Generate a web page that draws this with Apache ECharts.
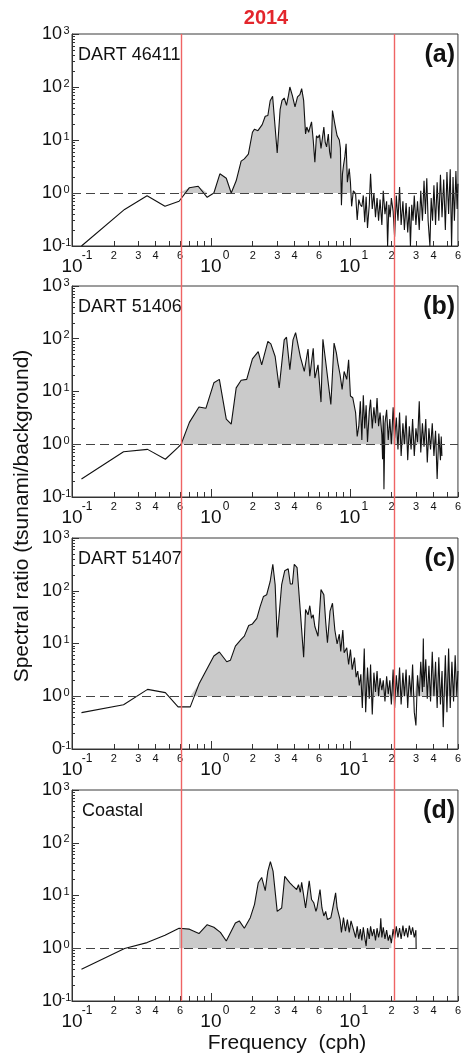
<!DOCTYPE html>
<html><head><meta charset="utf-8">
<script src="https://cdn.jsdelivr.net/npm/echarts@6/dist/echarts.min.js"></script>
<style>html,body{margin:0;padding:0;background:#fff}#c{width:464px;height:1055px}</style>
</head><body><div id="c"></div>
<script>
// ---------- data ----------
const yearLabel = '2014';
const panelNames = ['DART 46411', 'DART 51406', 'DART 51407', 'Coastal'];
const panelTags = ['(a)', '(b)', '(c)', '(d)'];
const bandLimits = [0.6, 20];                 // red vertical lines (cph)
const fillRanges = [[0.58, 10.2], [0.58, 46.5], [0.58, 60], [0.58, 20]];
const xMajorTicks = [0.1, 1, 10];
const xMinorTicks = [0.2,0.3,0.4,0.5,0.6,0.7,0.8,0.9,2,3,4,5,6,7,8,9,20,30,40,50,60];
const xMinorLabels = [0.2,0.3,0.4,0.6,2,3,4,6,20,30,40,60];
const yMajorTicks = [0.1, 1, 10, 100, 1000];
const yMinorTicks = [0.2,0.3,0.4,0.5,0.6,0.7,0.8,0.9,2,3,4,5,6,7,8,9,20,30,40,50,60,70,80,90,200,300,400,500,600,700,800,900];

const spectrumA = [
[0.117,0.10],[0.239,0.49],[0.347,0.89],[0.467,0.56],[0.59,0.70],[0.70,1.26],[0.81,1.34],[0.94,0.83],[1.05,1.0],[1.16,2.3],[1.29,1.9],[1.40,1.0],[1.52,1.7],[1.65,4.0],[1.74,4.4],[1.86,5.4],[1.99,14],[2.06,16],[2.18,15],[2.34,19.5],[2.46,28],[2.57,29],[2.67,55],[2.78,67],[3.0,5.7],[3.15,38],[3.25,56],[3.37,62],[3.5,45],[3.62,70],[3.7,100],[3.85,70],[4.03,42],[4.2,65],[4.37,72],[4.5,93],[4.65,56],[4.8,13],[4.9,17.6],[5.05,14],[5.3,22],[5.45,10],[5.6,3.8],[5.75,12],[5.9,11],[6.05,12.5],[6.2,6.9],[6.35,11],[6.5,17.6],[6.65,9],[6.8,7.4],[7.0,13],[7.15,6],[7.3,4.5],[7.5,36],[7.8,20],[8.1,12],[8.4,10],[8.55,7],[8.7,0.59],[8.85,2.3],[9.0,3.3],[9.2,4.8],[9.4,8.5],[9.6,1.6],[9.9,2.9],[10.1,1.6],[10.3,0.56],[10.6,1.1],[11.0,0.97],[11.3,0.31],[11.6,0.75],[11.9,0.6],
[12.2,0.55],[12.5,0.9],[12.8,0.28],[13.1,0.85],[13.4,0.22],[13.8,0.6],[14.1,2.3],[14.5,0.5],[14.9,1.0],[15.3,0.35],[15.7,0.8],[16.1,0.3],[16.5,0.75],[17.0,0.25],[17.4,1.1],[17.9,0.4],[18.4,0.7],[18.7,0.1],[19.1,0.6],[19.5,0.35],[19.9,0.8],[20.5,0.45],[21.0,0.15],[21.6,0.9],[22.2,0.3],[22.8,1.3],[23.4,0.25],[24.1,0.7],[24.7,0.2],[25.4,0.65],[26.1,0.18],[26.8,0.55],[27.3,0.1],[27.9,0.6],[28.5,0.3],[29.1,0.9],[29.9,0.25],[30.7,0.7],[31.6,0.2],[32.4,1.1],[33.3,0.3],[34.2,1.7],[35.0,0.4],[35.8,1.9],[36.6,0.3],[37.7,0.1],[38.5,0.8],[39.4,0.3],[40.3,1.4],[41.4,0.25],[42.5,1.6],[43.7,0.3],[44.9,2.2],[46.1,0.35],[47.4,1.8],[48.7,0.2],[50.0,2.5],[51.4,0.4],[52.8,2.8],[54.0,0.1],[55.3,2.0],[56.6,0.3],[58.0,2.6],[59.2,0.5],[60,1.5]
];
const spectrumB = [
[0.117,0.22],[0.235,0.72],[0.35,0.8],[0.47,0.52],[0.58,0.87],[0.61,1.0],[0.70,2.6],[0.82,5.1],[0.92,4.8],[1.05,14.6],[1.15,17],[1.29,3.0],[1.40,2.4],[1.52,11.7],[1.65,16.3],[1.81,17],[1.99,41.5],[2.19,57],[2.32,32],[2.57,89],[2.7,80],[2.9,46],[3.1,11.7],[3.37,95],[3.5,107],[3.7,26],[3.9,95],[4.07,131],[4.4,46],[4.7,24],[5.0,64],[5.15,19.5],[5.45,66],[5.6,18],[5.9,32],[6.2,6.3],[6.4,98],[6.7,37],[6.9,40],[7.3,5.7],[7.7,83],[8.0,54],[8.2,35],[8.5,21],[8.8,11],[9.1,24],[9.5,17],[9.8,40],[10.1,8.2],[10.5,7.6],[11.0,4.0],[11.3,1.4],
[11.6,2.2],[11.9,6.5],[12.2,1.2],[12.5,8.5],[12.8,2.0],[13.1,5.5],[13.4,1.1],[13.8,4.2],[14.1,7.0],[14.5,2.0],[14.9,5.0],[15.3,2.5],[15.7,7.5],[16.1,2.2],[16.5,4.0],[17.0,1.5],[17.2,0.52],[17.4,3.5],[17.6,0.14],[17.9,2.5],[18.4,4.5],[18.9,1.2],[19.4,3.0],[19.9,1.0],[20.5,5.0],[21.0,1.3],[21.6,3.2],[22.2,0.8],[22.8,4.0],[23.4,0.6],[24.1,2.5],[24.7,1.0],[25.4,3.5],[26.1,0.5],[26.8,2.2],[27.6,0.8],[28.3,3.0],[29.1,0.6],[29.9,2.0],[30.7,1.1],[31.6,6.5],[32.4,0.7],[33.3,2.5],[34.2,0.9],[35.2,3.0],[36.1,0.45],[37.1,2.0],[38.1,0.8],[39.2,2.5],[40.3,0.6],[41.4,1.8],[42.5,0.22],[43.7,1.6],[44.9,0.5],[45.5,1.4],[46.0,0.6]
];
const spectrumC = [
[0.117,0.49],[0.235,0.69],[0.35,1.35],[0.47,1.17],[0.58,0.63],[0.71,0.63],[0.82,1.7],[1.05,5.8],[1.15,6.9],[1.30,4.5],[1.38,4.8],[1.50,8.9],[1.65,12],[1.74,13.8],[1.87,22],[1.99,23.5],[2.14,30],[2.26,50],[2.39,78],[2.52,84],[2.67,150],[2.79,318],[2.9,130],[3.0,13],[3.23,130],[3.4,240],[3.6,260],[3.73,134],[3.86,134],[3.98,318],[4.17,275],[4.4,41],[4.65,5.5],[4.8,44],[5.0,35],[5.15,52],[5.3,30],[5.45,35],[5.6,21],[5.9,13.7],[6.2,105],[6.5,84],[6.7,26],[6.9,10.3],[7.2,41],[7.5,58],[7.8,18],[8.1,9.8],[8.4,15],[8.6,7.1],[8.9,18],[9.1,6.7],[9.5,8.3],[9.8,4.0],[10.1,7.7],[10.4,3.2],[10.8,5.4],[11.1,2.3],[11.4,3.0],
[11.7,1.6],[12.0,2.6],[12.3,0.6],[12.7,8.0],[13.0,0.5],[13.4,3.5],[13.8,0.9],[14.1,4.0],[14.5,0.45],[14.9,2.8],[15.3,1.2],[15.7,3.0],[16.1,1.0],[16.5,2.2],[17.0,1.3],[17.4,2.0],[17.9,0.8],[18.4,2.4],[18.9,1.1],[19.4,2.0],[19.9,0.7],[20.5,3.2],[21.0,0.6],[21.6,2.5],[22.2,1.0],[22.8,3.5],[23.4,0.7],[24.1,2.8],[24.7,1.0],[25.4,3.2],[26.1,0.6],[26.8,2.5],[27.6,1.0],[28.3,4.0],[29.1,0.5],[29.9,0.28],[30.7,2.5],[31.6,1.0],[32.4,4.5],[33.3,1.2],[33.8,12.5],[34.2,1.5],[35.2,5.0],[36.1,0.9],[37.1,3.8],[38.1,0.8],[39.2,7.0],[40.3,1.0],[41.4,4.5],[42.5,0.6],[43.7,5.5],[44.9,0.7],[46.1,3.0],[47.0,0.26],[48.7,6.0],[50.0,0.5],[51.4,8.0],[52.8,0.6],[54.3,4.5],[55.8,0.8],[57.3,6.0],[58.9,1.0],[60,3.0]
];
const spectrumD = [
[0.117,0.40],[0.239,0.99],[0.347,1.28],[0.467,1.76],[0.59,2.4],[0.70,2.3],[0.82,1.9],[0.94,2.8],[1.05,2.5],[1.17,2.0],[1.29,1.37],[1.50,3.0],[1.6,3.3],[1.74,2.4],[1.92,3.8],[2.06,6.8],[2.19,17.4],[2.32,22],[2.46,12.4],[2.57,29],[2.68,44],[2.8,29],[3.0,5.0],[3.23,5.8],[3.4,23],[3.7,17.4],[3.9,15],[4.14,13],[4.27,16],[4.4,11.5],[4.5,17.8],[4.8,5.8],[5.1,19],[5.3,8.4],[5.5,7.3],[5.7,5.0],[5.8,5.8],[6.1,13],[6.3,5.8],[6.5,4.1],[6.7,5.0],[6.9,3.5],[7.3,3.8],[7.5,5.4],[7.9,11.2],[8.1,5.8],[8.5,3.5],[8.7,2.0],[9.0,3.8],[9.3,2.1],[9.6,3.5],[9.9,2.0],[10.2,3.3],[10.6,2.3],[11.0,1.6],
[11.3,2.6],[11.6,1.5],[11.9,2.3],[12.2,1.4],[12.5,2.5],[12.8,1.6],[13.1,1.1],[13.4,2.4],[13.8,1.5],[14.1,2.6],[14.5,1.7],[14.9,2.3],[15.3,1.4],[15.7,2.4],[16.1,1.6],[16.5,2.2],[16.7,3.7],[17.0,1.6],[17.4,2.5],[17.9,1.5],[18.4,2.2],[18.9,1.4],[19.4,1.8],[19.9,1.25],[20.5,2.3],[21.0,1.5],[21.6,2.6],[22.2,1.6],[22.8,2.4],[23.4,1.5],[24.1,2.7],[24.7,1.7],[25.4,2.4],[26.1,1.6],[26.8,2.7],[27.6,1.8],[28.3,2.5],[29.1,1.6],[29.9,2.2],[30.0,1.0]
];
const spectra = [spectrumA, spectrumB, spectrumC, spectrumD];

// ---------- layout / style ----------
const FONT = '"Liberation Sans", Arial, sans-serif';
const panelTops = [34, 286, 538, 790];
const panelHeights = [212, 211, 211, 211];
const AXIS_COLOR = '#333';

const grids = [], xAxes = [], yAxes = [], series = [], graphics = [];

function majorX(v) {
  const e = Math.round(Math.log10(v));
  return '{p|}{b|10}{s|' + e + '}';
}
function minorLabel(v) {
  const d = Math.pow(10, Math.floor(Math.log10(v) + 1e-9));
  return String(Math.round(v / d));
}

spectra.forEach((spec, i) => {
  grids.push({left: 72, right: 3, top: panelTops[i], height: panelHeights[i],
    show: true, borderColor: '#3a3a3a', borderWidth: 1, backgroundColor: 'transparent'});
  // x major
  xAxes.push({gridIndex: i, type: 'log', logBase: 10, min: 0.1, max: 60, position: 'bottom',
    axisLine: {show: true, lineStyle: {color: AXIS_COLOR, width: 1}},
    splitLine: {show: false}, minorTick: {show: false},
    axisTick: {show: true, inside: true, length: 8, customValues: xMajorTicks, lineStyle: {color: AXIS_COLOR}},
    axisLabel: {show: true, customValues: xMajorTicks, margin: 4, color: '#111', fontFamily: FONT,
      formatter: majorX,
      rich: {
        p: {width: 9, fontSize: 12},
        b: {fontSize: 19, lineHeight: 26, verticalAlign: 'bottom', fontFamily: FONT, color: '#111'},
        s: {fontSize: 12, lineHeight: 12, width: 9, align: 'left', verticalAlign: 'top', fontFamily: FONT, color: '#111'}
      }}
  });
  // x minor
  xAxes.push({gridIndex: i, type: 'log', logBase: 10, min: 0.1, max: 60, position: 'bottom',
    axisLine: {show: false}, splitLine: {show: false},
    axisTick: {show: true, inside: true, length: 5, customValues: xMinorTicks, lineStyle: {color: AXIS_COLOR}},
    axisLabel: {show: true, customValues: xMinorLabels, margin: 4, fontSize: 11, lineHeight: 12,
      color: '#111', fontFamily: FONT, formatter: minorLabel}
  });
  // y major
  yAxes.push({gridIndex: i, type: 'log', logBase: 10, min: 0.1, max: 1000, position: 'left',
    axisLine: {show: true, lineStyle: {color: AXIS_COLOR, width: 1}},
    splitLine: {show: false},
    axisTick: {show: true, inside: true, length: 7, customValues: yMajorTicks, lineStyle: {color: AXIS_COLOR}},
    axisLabel: {show: true, customValues: yMajorTicks, margin: 1, color: '#111', fontFamily: FONT,
      formatter: v => {
        const e = Math.round(Math.log10(v));
        const base = (i === 2 && e === -1) ? '0' : '10';
        return '{b|' + base + '}{s|' + e + '}';
      },
      rich: {
        b: {fontSize: 18, lineHeight: 18, verticalAlign: 'bottom', fontFamily: FONT, color: '#111'},
        s: {fontSize: 11, lineHeight: 11, width: 9, align: 'left', verticalAlign: 'top', fontFamily: FONT, color: '#111'}
      }}
  });
  // y minor
  yAxes.push({gridIndex: i, type: 'log', logBase: 10, min: 0.1, max: 1000, position: 'left',
    axisLine: {show: false}, splitLine: {show: false},
    axisTick: {show: true, inside: true, length: 3, customValues: yMinorTicks, lineStyle: {color: AXIS_COLOR}},
    axisLabel: {show: false}
  });

  const r = fillRanges[i];
  const fillData = spec.filter(d => d[0] >= r[0] && d[0] <= r[1]).map(d => [d[0], Math.max(d[1], 1)]);
  series.push({type: 'line', xAxisIndex: 2 * i, yAxisIndex: 2 * i, data: fillData,
    symbol: 'none', silent: true, lineStyle: {width: 0, opacity: 0},
    areaStyle: {color: '#cacaca', opacity: 1, origin: 1}, z: 1, animation: false});
  series.push({type: 'line', xAxisIndex: 2 * i, yAxisIndex: 2 * i, data: spec,
    symbol: 'none', silent: true, lineStyle: {color: '#111', width: 1.1}, z: 3, animation: false,
    markLine: {symbol: 'none', silent: true, label: {show: false}, animation: false,
      lineStyle: {type: [9, 5], color: '#444', width: 1}, data: [{yAxis: 1}]}});

  graphics.push({type: 'text', x: i === 3 ? 82 : 78, y: panelTops[i] + 21,
    style: {text: panelNames[i], font: '18px ' + FONT, fill: '#111',
      align: 'left', verticalAlign: 'middle', textAlign: 'left', textVerticalAlign: 'middle'}});
  graphics.push({type: 'text', x: 455, y: panelTops[i] + 21,
    style: {text: panelTags[i], font: 'bold 25px ' + FONT, fill: '#111',
      align: 'right', verticalAlign: 'middle', textAlign: 'right', textVerticalAlign: 'middle'}});
});

// overlay grid for the red band limits running through all panels
grids.push({left: 72, right: 3, top: 34, bottom: 54, show: false});
xAxes.push({gridIndex: 4, type: 'log', min: 0.1, max: 60, show: false});
yAxes.push({gridIndex: 4, type: 'value', min: 0, max: 1, show: false});
series.push({type: 'line', xAxisIndex: 8, yAxisIndex: 8, data: [], z: 10, silent: true,
  markLine: {symbol: 'none', silent: true, animation: false, label: {show: false},
    lineStyle: {color: '#ef6464', width: 1.4, type: 'solid'},
    data: bandLimits.map(v => ({xAxis: v}))}});

graphics.push({type: 'text', x: 266, y: 18,
  style: {text: yearLabel, font: 'bold 20px ' + FONT, fill: '#e3262c',
    align: 'center', verticalAlign: 'middle', textAlign: 'center', textVerticalAlign: 'middle'}});
graphics.push({type: 'text', x: 22, y: 516, rotation: Math.PI / 2,
  style: {text: 'Spectral ratio (tsunami/background)', font: '21px ' + FONT, fill: '#111',
    align: 'center', verticalAlign: 'middle', textAlign: 'center', textVerticalAlign: 'middle'}});
graphics.push({type: 'text', x: 287, y: 1043,
  style: {text: 'Frequency  (cph)', font: '21px ' + FONT, fill: '#111',
    align: 'center', verticalAlign: 'middle', textAlign: 'center', textVerticalAlign: 'middle'}});

const chart = echarts.init(document.getElementById('c'), null, {renderer: 'canvas'});
chart.setOption({
  animation: false,
  backgroundColor: '#fff',
  grid: grids, xAxis: xAxes, yAxis: yAxes, series: series,
  graphic: graphics
});
</script></body></html>
